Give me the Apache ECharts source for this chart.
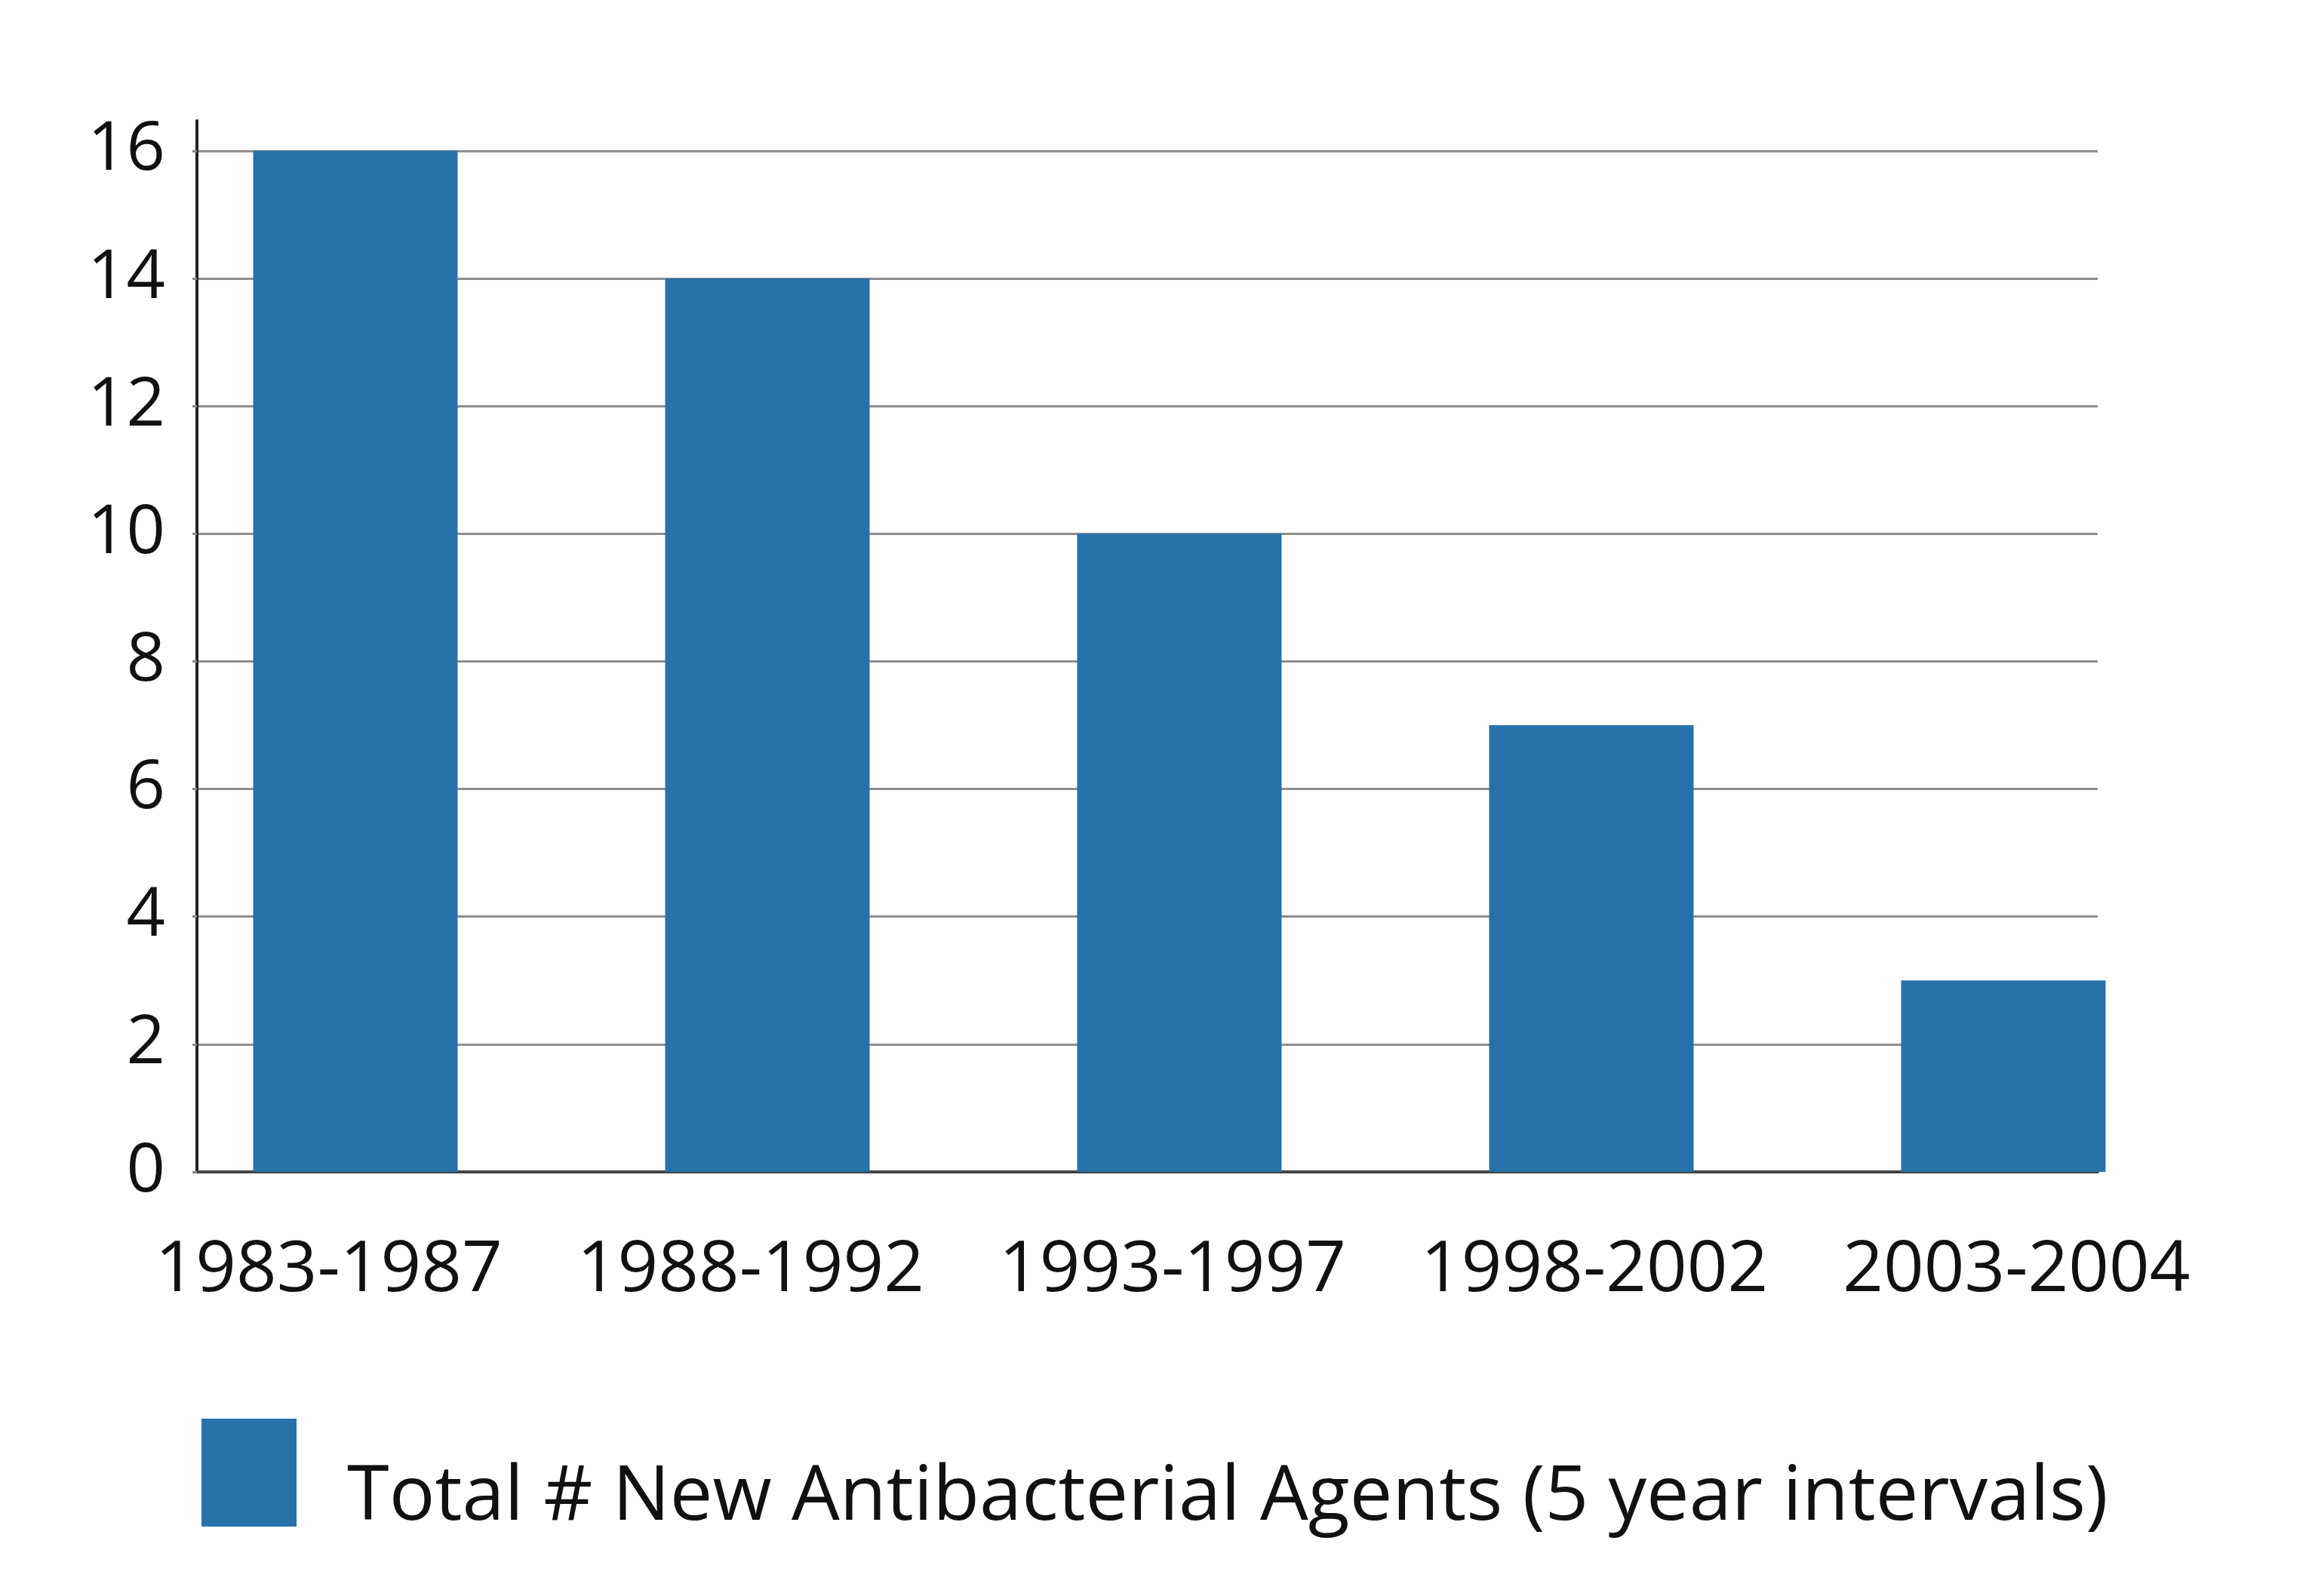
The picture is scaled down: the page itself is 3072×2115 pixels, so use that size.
<!DOCTYPE html>
<html>
<head>
<meta charset="utf-8">
<script src="https://cdn.jsdelivr.net/npm/echarts@6/dist/echarts.min.js"></script>
<style>
html,body{margin:0;padding:0;background:#fff;}
#chart{width:3072px;height:2115px;}
</style>
</head>
<body>
<div id="chart"></div>
<script>
const categories = ['1983-1987', '1988-1992', '1993-1997', '1998-2002', '2003-2004'];
const newAgents = [16, 14, 10, 7, 3];
const seriesName = 'Total # New Antibacterial Agents (5 year intervals)';
const yTickInterval = 2;
const yMax = 16.47;

const FONT = 'Open Sans';
const TOP = 160, BOTTOM = 562;
const chart = echarts.init(document.getElementById('chart'), null, {renderer: 'canvas'});
chart.setOption({
  backgroundColor: '#ffffff',
  animation: false,
  textStyle: {fontFamily: FONT},
  legend: {
    data: [seriesName],
    left: 262,
    top: 1875,
    icon: 'rect',
    itemWidth: 126,
    itemHeight: 143,
    formatter: function (name) { return '{t|' + name + '}'; },
    textStyle: {
      fontFamily: FONT, fontSize: 101, color: '#111', padding: [0, 0, 0, 62],
      rich: {t: {fontFamily: FONT, fontSize: 101, color: '#111', padding: [68, 0, 0, 0]}}
    }
  },
  grid: [
    {left: 198, right: 144, top: TOP, bottom: BOTTOM},
    {left: 261, right: 292, top: TOP, bottom: BOTTOM},
    {left: 156, right: 120, top: TOP, bottom: BOTTOM}
  ],
  xAxis: [
    {
      type: 'category', gridIndex: 0, data: categories,
      axisLine: {show: false}, axisTick: {show: false}, axisLabel: {show: false}
    },
    {
      type: 'category', gridIndex: 1, data: categories,
      axisLine: {show: true, lineStyle: {color: '#444', width: 4}},
      axisTick: {show: false}, axisLabel: {show: false}
    },
    {
      type: 'category', gridIndex: 2, data: categories,
      axisLine: {show: false}, axisTick: {show: false},
      axisLabel: {interval: 0, fontFamily: FONT, fontSize: 94, color: '#111', margin: 84}
    }
  ],
  yAxis: [
    {type: 'value', gridIndex: 0, min: 0, max: yMax, interval: yTickInterval, show: false},
    {
      type: 'value', gridIndex: 1, min: 0, max: yMax, interval: yTickInterval,
      axisLine: {show: true, lineStyle: {color: '#222', width: 4}},
      axisTick: {show: true, length: 6, lineStyle: {color: '#888', width: 3}},
      splitLine: {show: true, showMaxLine: false, lineStyle: {color: '#8e8e8e', width: 3}},
      axisLabel: {fontFamily: FONT, fontSize: 90, color: '#111', margin: 42, showMaxLabel: false, padding: [0, 0, 36, 0]}
    },
    {type: 'value', gridIndex: 2, min: 0, max: yMax, interval: yTickInterval, show: false}
  ],
  series: [{
    name: seriesName,
    type: 'bar',
    xAxisIndex: 0,
    yAxisIndex: 0,
    data: newAgents,
    barWidth: 271,
    itemStyle: {color: '#2672ab'}
  }]
});
</script>
</body>
</html>
